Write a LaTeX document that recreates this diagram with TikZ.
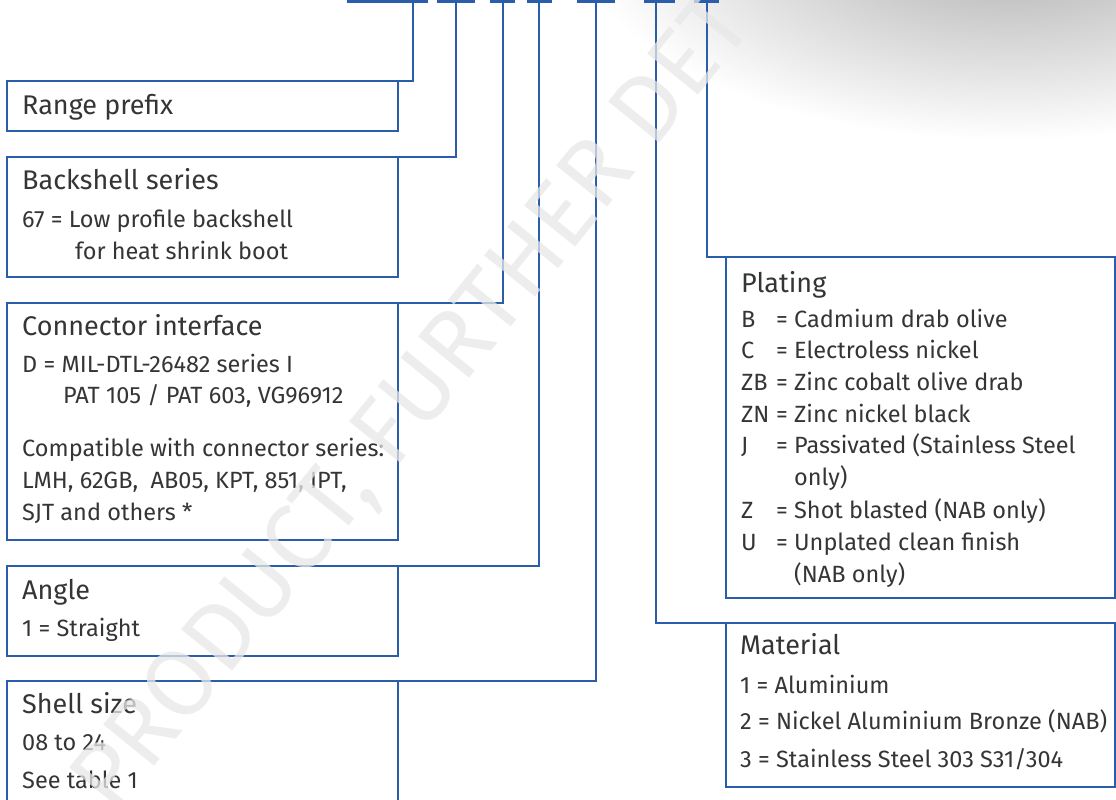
\documentclass[tikz,border=0pt]{standalone}
\usepackage{fontspec}
\setmainfont{Fira Sans}
\usetikzlibrary{positioning}
\definecolor{lineblue}{HTML}{2A5DAA}
\definecolor{txtgray}{HTML}{353535}

\begin{document}
\begin{tikzpicture}[
    x=1pt, y=-1pt,
    box/.style={draw=lineblue, line width=2.2pt, anchor=north west, inner sep=0pt, outer sep=0pt},
    conn/.style={draw=lineblue, line width=2.2pt},
    bar/.style={draw=lineblue, line width=3pt},
    ttl/.style={anchor=base west, inner sep=0pt, text=txtgray, font=\fontsize{27}{32}\selectfont},
    itm/.style={anchor=base west, inner sep=0pt, text=txtgray, font=\fontsize{23.5}{28}\selectfont},
    wmark/.style={text=black!9, opacity=0.75, rotate=51, font=\fontsize{95}{100}\selectfont}
  ]
  \clip (0,0) rectangle (1116,800);
  \fill[white] (0,0) rectangle (1116,800);
  % soft shadow, top right
  \shade[inner color=black!32, outer color=white] (1010,-60) ellipse [x radius=430pt, y radius=200pt];

  % part number bars
  \foreach \n/\a/\b/\c in {1/347/413/428, 2/437/456/475, 3/490/503/515, 4/527/539/552,
                           5/577/596/615, 6/644/656/675, 7/694/707/719}{
    \coordinate (L\n) at (\a,1.5);
    \coordinate (T\n) at (\b,1.5);
    \coordinate (R\n) at (\c,1.5);
    \draw[bar] (L\n) -- (R\n);
  }

  % boxes
  \node[box, minimum width=391pt, minimum height=50pt]  (rng) at (7,81) {};
  \node[box, minimum width=391pt, minimum height=120pt] (bks) at (7,157) {};
  \node[box, minimum width=391pt, minimum height=237pt] (cif) at (7,303) {};
  \node[box, minimum width=391pt, minimum height=90pt]  (ang) at (7,566) {};
  \node[box, minimum width=391pt, minimum height=140pt] (shl) at (7,681) {};
  \node[box, minimum width=389pt, minimum height=341pt] (plt) at (726,257) {};
  \node[box, minimum width=389pt, minimum height=164pt] (mat) at (726,623) {};

  % connectors
  \draw[conn] (T1) |- (rng.north east);
  \draw[conn] (T2) |- (bks.north east);
  \draw[conn] (T3) |- (cif.north east);
  \draw[conn] (T4) |- (ang.north east);
  \draw[conn] (T5) |- (shl.north east);
  \draw[conn] (T6) |- (mat.north west);
  \draw[conn] (T7) |- (plt.north west);

  % left texts
  \node[ttl] (rngT) at (22,114) {Range prefix};
  \node[ttl] (bksT) at (22,189) {Backshell series};
  \node[itm] (bks1) at (22,227) {67 = Low profile backshell};
  \node[itm] (bks2) at (75,259) {for heat shrink boot};
  \node[ttl] (cifT) at (22,335) {Connector interface};
  \node[itm] (cif1) at (22,372) {D = MIL-DTL-26482 series I};
  \node[itm] (cif2) at (63,403) {PAT 105 / PAT 603, VG96912};
  \node[itm] (cif3) at (22,456) {Compatible with connector series:};
  \node[itm] (cif4) at (22,488) {LMH, 62GB,\ \ AB05, KPT, 851, IPT,};
  \node[itm] (cif5) at (22,520) {SJT and others *};
  \node[ttl] (angT) at (22,599) {Angle};
  \node[itm] (ang1) at (22,636) {1 = Straight};
  \node[ttl] (shlT) at (22,713) {Shell size};
  \node[itm] (shl1) at (22,750) {08 to 24};
  \node[itm] (shl2) at (22,788) {See table 1};

  % plating
  \node[ttl] (pltT) at (741,292) {Plating};
  \foreach \k/\t/\y in {B/Cadmium drab olive/327, C/Electroless nickel/358,
                        ZB/Zinc cobalt olive drab/390, ZN/Zinc nickel black/422,
                        J/Passivated (Stainless Steel/453, Z/Shot blasted (NAB only)/518,
                        U/Unplated clean finish/550}{
    \node[itm] (pk\y) at (741,\y) {\k};
    \node[itm] (pv\y) at (776,\y) {= \t};
  }
  \node[itm] (pc485) at (794,485) {only)};
  \node[itm] (pc582) at (794,582) {(NAB only)};

  % material
  \node[ttl] (matT) at (740,654) {Material};
  \node[itm] (mat1) at (740,693) {1 = Aluminium};
  \node[itm] (mat2) at (740,729) {2 = Nickel Aluminium Bronze (NAB)};
  \node[itm] (mat3) at (740,767) {3 = Stainless Steel 303 S31/304};

  % watermark
  \node[wmark] (wm) at (415,405) {PRODUCT, FURTHER DET};
\end{tikzpicture}
\end{document}
